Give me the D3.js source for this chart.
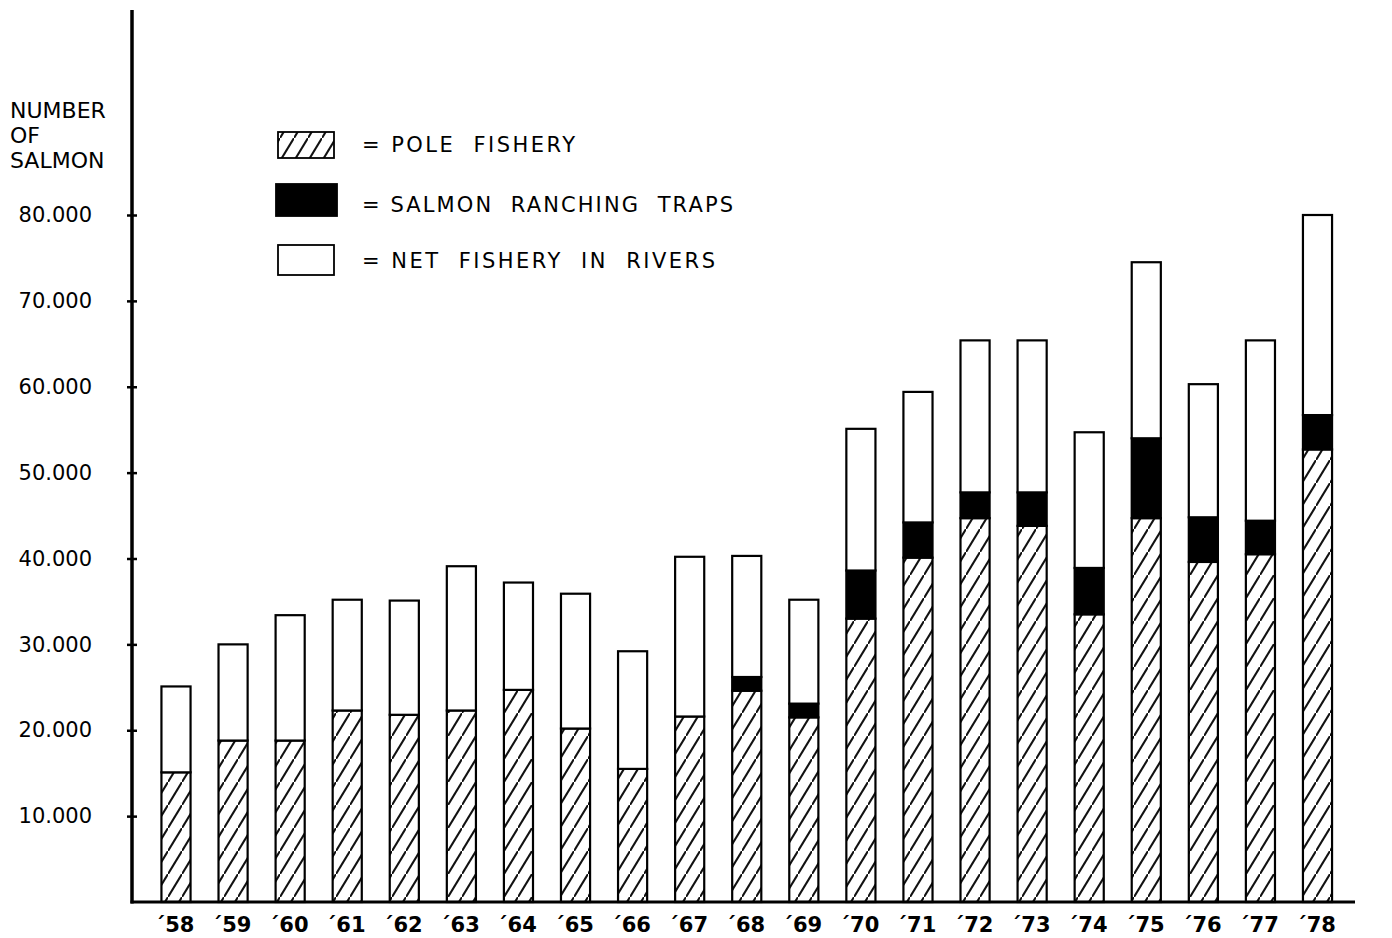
<!DOCTYPE html>
<html>
<head>
<meta charset="utf-8">
<script src="https://cdn.jsdelivr.net/npm/d3@7"></script>
<style>
  html, body { margin: 0; padding: 0; background: #fff; }
  svg { display: block; font-family: "DejaVu Sans", sans-serif; }
</style>
</head>
<body>
<svg id="chart" width="1392" height="938"></svg>
<script>
// Salmon catch by method, 1958-1978

// -----------------------------------------------------------------------------
// DATA
// -----------------------------------------------------------------------------

const YEARS = ['58','59','60','61','62','63','64','65','66','67','68','69','70','71','72','73','74','75','76','77','78'];
const POLE_FISHERY = [15100, 18800, 18800, 22300, 21800, 22300, 24700, 20200, 15500, 21600, 24600, 21500, 33000, 40100, 44700, 43800, 33500, 44700, 39600, 40500, 52700];
const RANCHING_TRAPS = [0, 0, 0, 0, 0, 0, 0, 0, 0, 0, 1600, 1600, 5600, 4100, 3000, 3900, 5400, 9300, 5200, 3900, 4000];
const NET_FISHERY = [10000, 11200, 14600, 12900, 13300, 16800, 12500, 15700, 13700, 18600, 14100, 12100, 16500, 15200, 17700, 17700, 15800, 20500, 15500, 21000, 23300];
const Y_TICKS = [10000, 20000, 30000, 40000, 50000, 60000, 70000, 80000];
const Y_TITLE = ['NUMBER', 'OF', 'SALMON'];
const LEGEND = [
  { key: 'pole', label: '= POLE  FISHERY', len: 213 },
  { key: 'traps', label: '= SALMON  RANCHING  TRAPS', len: 371 },
  { key: 'net', label: '= NET  FISHERY  IN  RIVERS', len: 353 }
];

// -----------------------------------------------------------------------------
// SETUP
// -----------------------------------------------------------------------------

const svg = d3.select('#chart');
const AXIS_X = 132, BASE_Y = 902;

const x = d3.scalePoint().domain(YEARS).range([176, 1317.5]);
const barW = x.step() * 0.51;
const y = d3.scaleLinear().domain([0, 80000]).range([BASE_Y, 215]);

const rows = YEARS.map((yr, i) => ({ year: yr, pole: POLE_FISHERY[i], traps: RANCHING_TRAPS[i], net: NET_FISHERY[i] }));
const series = d3.stack().keys(['pole', 'traps', 'net'])(rows);

const defs = svg.append('defs');
defs.append('pattern')
  .attr('id', 'hatch')
  .attr('patternUnits', 'userSpaceOnUse')
  .attr('width', 14).attr('height', 23)
  .append('path')
  .attr('d', 'M-3.5,28.75 L17.5,-5.75')
  .attr('stroke', '#111').attr('stroke-width', 2.1);

const FILL = { pole: 'url(#hatch)', traps: '#000', net: '#fff' };

// -----------------------------------------------------------------------------
// BARS
// -----------------------------------------------------------------------------

const gBars = svg.append('g');
series.forEach(s => {
  gBars.selectAll(null)
    .data(s.filter(d => d[1] > d[0]))
    .enter()
    .append('rect')
    .attr('x', d => x(d.data.year) - barW / 2)
    .attr('y', d => y(d[1]))
    .attr('width', barW)
    .attr('height', d => y(d[0]) - y(d[1]))
    .attr('fill', '#fff');
  gBars.selectAll(null)
    .data(s.filter(d => d[1] > d[0]))
    .enter()
    .append('rect')
    .attr('x', d => x(d.data.year) - barW / 2)
    .attr('y', d => y(d[1]))
    .attr('width', barW)
    .attr('height', d => y(d[0]) - y(d[1]))
    .attr('fill', FILL[s.key])
    .attr('stroke', '#000')
    .attr('stroke-width', 2.2);
});

// -----------------------------------------------------------------------------
// AXES
// -----------------------------------------------------------------------------

const locale = d3.formatLocale({ decimal: ',', thousands: '.', grouping: [3], currency: ['', ''] });

const yAxis = svg.append('g')
  .attr('transform', `translate(${AXIS_X},0)`)
  .call(d3.axisLeft(y).tickValues(Y_TICKS).tickFormat(locale.format(',')).tickSize(5).tickPadding(35));
yAxis.select('.domain').remove();
yAxis.selectAll('.tick line').attr('x1', -5).attr('x2', 5).attr('stroke', '#000').attr('stroke-width', 2.5);
yAxis.selectAll('.tick text')
  .attr('font-family', '"DejaVu Sans", sans-serif')
  .attr('font-size', 21)
  .attr('fill', '#000');

const xAxis = svg.append('g')
  .attr('transform', `translate(0,${BASE_Y})`)
  .call(d3.axisBottom(x).tickSize(0).tickPadding(15).tickFormat(d => '\u00b4' + d));
xAxis.select('.domain').remove();
xAxis.selectAll('.tick text')
  .attr('font-family', '"DejaVu Sans", sans-serif')
  .attr('font-size', 21)
  .attr('font-weight', 'bold')
  .attr('fill', '#000')
  .attr('dx', -2);

svg.append('line')
  .attr('x1', AXIS_X).attr('x2', AXIS_X)
  .attr('y1', 10).attr('y2', BASE_Y + 1.5)
  .attr('stroke', '#000').attr('stroke-width', 3.5);
svg.append('line')
  .attr('x1', AXIS_X - 1.5).attr('x2', 1355)
  .attr('y1', BASE_Y).attr('y2', BASE_Y)
  .attr('stroke', '#000').attr('stroke-width', 3);

// y title
svg.append('text')
  .attr('font-size', 22)
  .attr('fill', '#000')
  .selectAll('tspan')
  .data(Y_TITLE)
  .enter()
  .append('tspan')
  .attr('x', 10)
  .attr('y', (d, i) => 118 + i * 25)
  .text(d => d);

// -----------------------------------------------------------------------------
// LEGEND
// -----------------------------------------------------------------------------

const legendBoxes = {
  pole: { x: 278, y: 132, w: 56, h: 26 },
  traps: { x: 276, y: 184, w: 61, h: 32 },
  net: { x: 278, y: 245, w: 56, h: 30 }
};
const legendBaselines = [152, 212, 268];

const gLegend = svg.append('g');
LEGEND.forEach((item, i) => {
  const b = legendBoxes[item.key];
  gLegend.append('rect')
    .attr('x', b.x).attr('y', b.y).attr('width', b.w).attr('height', b.h)
    .attr('fill', FILL[item.key])
    .attr('stroke', '#000').attr('stroke-width', 1.8);
  gLegend.append('text')
    .attr('x', 362)
    .attr('y', legendBaselines[i])
    .attr('font-size', 21)
    .attr('fill', '#000')
    .attr('textLength', item.len)
    .attr('lengthAdjust', 'spacing')
    .attr('xml:space', 'preserve')
    .text(item.label);
});
</script>
</body>
</html>
